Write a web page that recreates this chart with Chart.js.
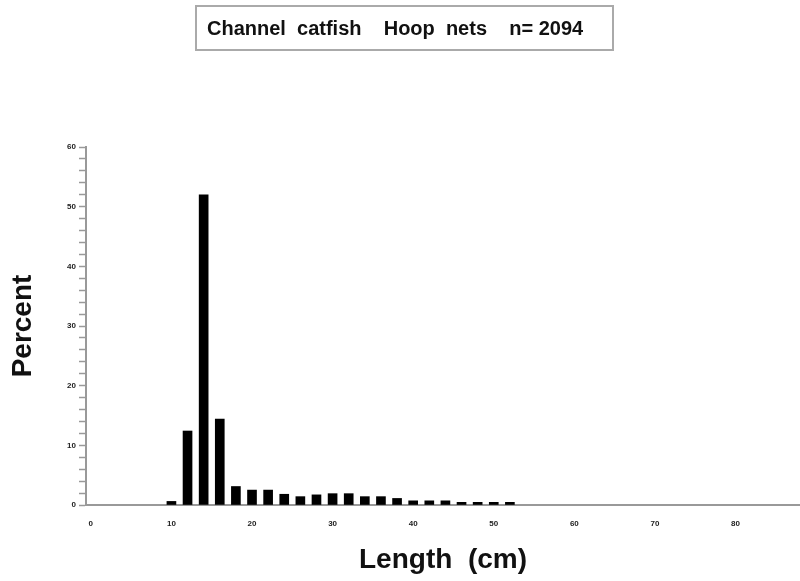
<!DOCTYPE html>
<html lang="en">
  <head>
    <meta charset="UTF-8" />
    <title>Channel catfish - Hoop nets</title>
    <style>
      html, body { margin: 0; padding: 0; background: #fff; }
      .wrap { position: relative; width: 800px; height: 581px; }
      .titleBox {
        position: absolute; left: 195px; top: 5px; width: 419px; height: 46px;
        border: 2px solid #aaa; box-sizing: border-box;
        font: bold 20px "Liberation Sans", Arial, sans-serif; color: #111;
        display: flex; align-items: center; padding-left: 10px; white-space: pre;
      }
      canvas { position: absolute; left: 0; top: 0; }
    </style>
  </head>
  <body>
    <div class="wrap">
      <canvas id="myChart" width="800" height="581"></canvas>
      <div class="titleBox">Channel  catfish    Hoop  nets    n= 2094</div>
    </div>
    <script src="https://cdn.jsdelivr.net/npm/chart.js"></script>
    <script>
      // length classes (cm) and percent of catch
      const lengths = [10, 12, 14, 16, 18, 20, 22, 24, 26, 28, 30, 32, 34, 36, 38, 40, 42, 44, 46, 48, 50, 52];
      const percent = [0.6, 12.4, 52, 14.4, 3.1, 2.5, 2.5, 1.8, 1.4, 1.7, 1.9, 1.9, 1.4, 1.4, 1.1, 0.7, 0.7, 0.7, 0.45, 0.45, 0.45, 0.45];
      const yTicks = [0, 10, 20, 30, 40, 50, 60];
      const xTicks = [0, 10, 20, 30, 40, 50, 60, 70, 80];

      const ctx = document.querySelector("#myChart");
      const axisColor = "#999";
      const font = "'Liberation Sans', Arial, sans-serif";

      new Chart(ctx, {
        type: "bar",
        data: {
          datasets: [
            {
              data: lengths.map((x, i) => ({ x: x, y: percent[i] })),
              backgroundColor: "#000",
              barThickness: 9
            }
          ]
        },
        options: {
          responsive: false,
          animation: false,
          layout: { padding: { top: 147, right: 0, left: 0, bottom: 0 } },
          plugins: { legend: { display: false }, tooltip: { enabled: false } },
          scales: {
            x: {
              type: "linear",
              offset: false,
              min: -0.6,
              max: 88,
              afterFit: s => { s.height = 76; },
              grid: { display: false },
              border: { display: true, color: axisColor, width: 2 },
              ticks: {
                includeBounds: false,
                autoSkip: false,
                stepSize: 10,
                maxRotation: 0,
                padding: 6,
                color: "#222",
                font: { family: font, size: 8, weight: "bold" },
                callback: v => (xTicks.includes(v) ? v : "")
              },
              title: {
                display: true,
                text: "Length  (cm)",
                color: "#111",
                font: { family: font, size: 28, weight: "bold" },
                padding: { top: 0, bottom: 4 }
              }
            },
            y: {
              min: 0,
              max: 60,
              afterFit: s => { s.width = 86; },
              grid: { drawOnChartArea: false, tickLength: 7, color: axisColor, tickWidth: 1.5 },
              border: { display: true, color: axisColor, width: 2 },
              ticks: {
                stepSize: 2,
                autoSkip: false,
                padding: 3,
                color: "#222",
                font: { family: font, size: 8, weight: "bold" },
                callback: v => (yTicks.includes(v) ? v : "")
              },
              title: {
                display: true,
                text: "Percent",
                color: "#111",
                font: { family: font, size: 28, weight: "bold" },
                padding: { top: 6, bottom: 0 }
              }
            }
          }
        }
      });
    </script>
  </body>
</html>
